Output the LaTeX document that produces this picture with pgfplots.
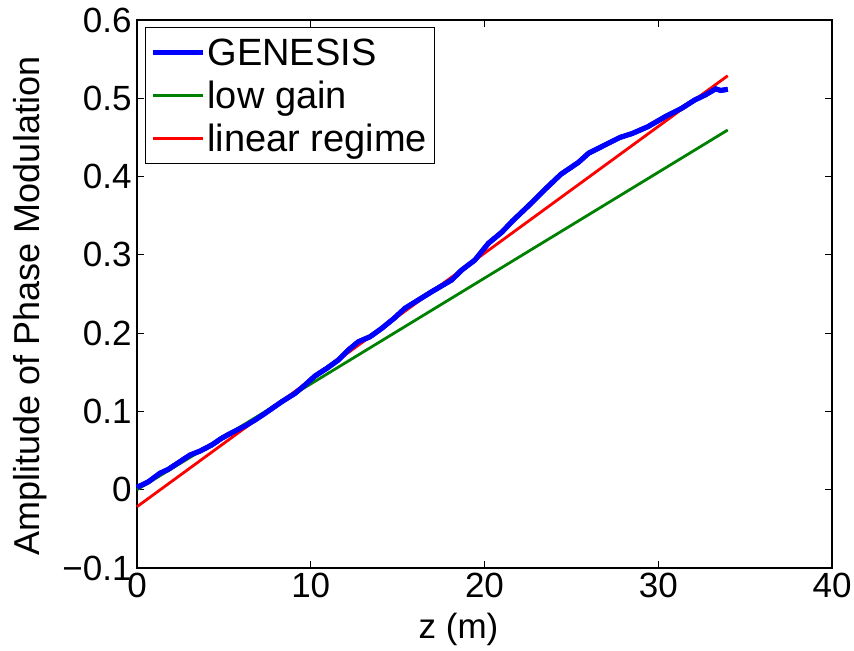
\documentclass[border=0pt]{standalone}
\usepackage{pgfplots}
\pgfplotsset{compat=1.18}
\usepackage{pgfplotstable}
\usepackage{fontspec}
\setmainfont{Liberation Sans}
\pgfplotstableread{
z a
0 0.003
0.65 0.010
1.32 0.021
1.8 0.026
2.38 0.0345
3.05 0.0443
3.63 0.0494
4.3 0.0571
4.87 0.0657
5.45 0.0728
6.22 0.0814
6.79 0.089
7.37 0.0976
8.33 0.1124
9.09 0.123
9.67 0.1337
10.24 0.1452
10.92 0.155
11.59 0.1657
12.16 0.1784
12.74 0.189
13.41 0.1954
14.08 0.206
14.8 0.219
15.42 0.2317
16.19 0.2423
16.96 0.2529
18.11 0.2679
18.69 0.2806
19.45 0.2934
20.22 0.3147
21.0 0.329
21.6 0.343
22.5 0.362
23.5 0.384
24.4 0.403
25.4 0.418
26.0 0.430
26.9 0.440
27.8 0.450
28.5 0.455
29.4 0.4637
30.4 0.4765
31.35 0.4872
32.1 0.4978
32.7 0.5042
33.3 0.512
33.6 0.510
34.0 0.5115
}\genesis
\definecolor{mgreen}{RGB}{0,128,0}
\newcommand{\lf}{\fontsize{38}{45}\selectfont}
\begin{document}
\begin{tikzpicture}
\begin{axis}[
  scale only axis,
  width=695pt, height=548pt,
  xmin=0, xmax=40, ymin=-0.1, ymax=0.6,
  xtick={0,10,20,30,40},
  ytick={-0.1,0,0.1,0.2,0.3,0.4,0.5,0.6},
  yticklabels={−0.1,0,0.1,0.2,0.3,0.4,0.5,0.6},
  xticklabels={0,10,20,30,40},
  tick align=inside,
  major tick length=7pt,
  tick style={black, line width=0.8pt},
  axis line style={black, line width=1.3pt},
  every tick label/.append style={font=\fontsize{35}{42}\selectfont},
  xlabel={z (m)},
  ylabel={Amplitude of Phase Modulation},
  xlabel style={font=\fontsize{35}{42}\selectfont, at={(axis description cs:0.5,0)}, anchor=north, yshift=-42pt, xshift=-26pt},
  ylabel style={font=\fontsize{36}{42}\selectfont, at={(axis description cs:0,0.5)}, anchor=south, yshift=86pt, xshift=-12pt},
  yticklabel style={xshift=-2pt},
  xticklabel style={yshift=-2pt},
  legend style={at={(axis description cs:0.0115,0.987)}, anchor=north west,
    font=\lf, nodes={font=\lf, inner ysep=2pt}, draw=black, line width=1pt,
    inner xsep=5pt, inner ysep=9pt, row sep=10pt},
  legend cell align=left,
  legend image code/.code={\draw[#1] (0pt,0pt) -- (50pt,0pt);},
  clip=false,
]
\addplot[blue, line width=5pt] table[x=z,y=a] {\genesis};
\addlegendentry{\lf GENESIS}
\addplot[mgreen, line width=2.8pt] coordinates {(0,0.0) (34,0.4595)};
\addlegendentry{\lf low gain}
\addplot[red, line width=2.8pt] coordinates {(0,-0.0217) (34,0.5288)};
\addlegendentry{\lf linear regime}
\addplot[blue, line width=5pt, forget plot] table[x=z,y=a] {\genesis};
\coordinate (O) at (rel axis cs:0,0);
\coordinate (T) at (rel axis cs:1,1);
\end{axis}
\pgfresetboundingbox
\path ([shift={(-137pt,-82pt)}]O) rectangle ([shift={(22pt,20pt)}]T);
\end{tikzpicture}
\end{document}
